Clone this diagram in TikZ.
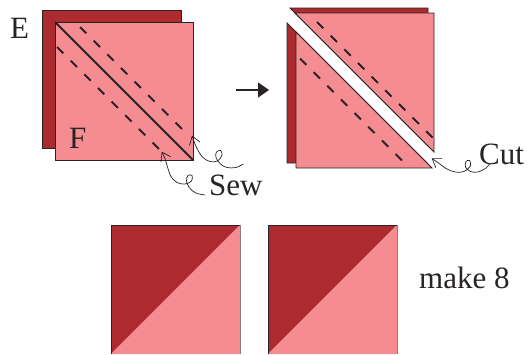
\documentclass[tikz,border=0pt]{standalone}
\usepackage{fontspec}
\setmainfont{Liberation Serif}
\usetikzlibrary{arrows.meta}
\definecolor{darkred}{RGB}{173,43,46}
\definecolor{pinkf}{RGB}{244,140,145}
\definecolor{edgec}{RGB}{40,36,37}
\begin{document}
\begin{tikzpicture}[x=1pt,y=-1pt,
  outl/.style={draw=edgec, line width=0.9pt, line join=miter},
  dashln/.style={draw=edgec, line width=1.8pt, dash pattern=on 9pt off 10.3pt},
  solidln/.style={draw=edgec, line width=1.8pt},
  lbl/.style={font=\fontsize{31}{36}\selectfont, anchor=base west, inner sep=0pt, text=edgec},
  curly/.style={draw=edgec, line width=0.7pt, -{Straight Barb[length=8pt,width=11pt]}}]
\useasboundingbox (0,0) rectangle (527,354);

% ---------- left group ----------
\filldraw[outl, fill=darkred] (42,10) rectangle (181,148);
\filldraw[outl, fill=pinkf] (55,22) rectangle (193,160);
\coordinate (dA) at (55,22);
\coordinate (dB) at (193,160);
\draw[solidln] (dA) -- (dB);
\coordinate (u1) at (80,27);  \coordinate (u2) at (183,130);
\coordinate (l1) at (57,47);  \coordinate (l2) at (162,152);
\draw[dashln] (u1) -- (u2);
\draw[dashln] (l1) -- (l2);
\node[lbl] (E) at (10,38) {E};
\node[lbl] (F) at (69,148) {F};

% sew arrows
\draw[curly] plot[smooth, tension=0.6] coordinates {(243.3,164) (236,167.5) (227,167.5) (220.5,164) (216,157.5) (216.5,152) (220.5,150.5) (222,155) (217.5,161) (210,161.5) (202.5,157) (196.5,147.5) (192,135.5)};
\draw[curly] plot[smooth, tension=0.6] coordinates {(205,195) (196,193) (189.5,188) (186.5,181) (188,175.5) (192,175.5) (191.5,181) (185,184) (177,182.5) (171,176.5) (167.5,167) (165,158.5) (161.7,151.7)};
\node[lbl] (sew) at (209,195) {Sew};

% ---------- arrow ----------
\coordinate (a1) at (236,90);
\coordinate (a2) at (269,90);
\draw[line width=1.3pt, draw=edgec, -{Triangle[length=11pt,width=15pt]}] (a1) -- (a2);

% ---------- right group ----------
\filldraw[outl, fill=darkred] (290,8) -- (428,8) -- (428,146) -- cycle;
\filldraw[outl, fill=darkred] (287,23) -- (287,163) -- (427,163) -- cycle;
\filldraw[outl, fill=pinkf] (295,13) -- (434,13) -- (434,152) -- cycle;
\filldraw[outl, fill=pinkf] (296,32) -- (296,168) -- (432,168) -- cycle;
\coordinate (ru1) at (317,22);  \coordinate (ru2) at (433,138);
\coordinate (rl1) at (300,58.5); \coordinate (rl2) at (403,161.5);
\draw[dashln] (ru1) -- (ru2);
\draw[dashln] (rl1) -- (rl2);

% cut arrow
\draw[curly] plot[smooth, tension=0.6] coordinates {(490,163.5) (486,168) (478,172) (470.5,171.5) (465.5,167) (466,161.5) (469.5,160.5) (470.5,165.5) (464,171.5) (455,172) (446,168.5) (438.5,163) (431.7,158.3)};
\node[lbl] (cut) at (479,164) {Cut};

% ---------- bottom squares ----------
\fill[darkred] (111,225) -- (240,225) -- (111,354) -- cycle;
\fill[pinkf] (240,225) -- (240,354) -- (111,354) -- cycle;
\draw[draw=edgec, line width=0.9pt] (111,354) -- (111,225) -- (240,225);
\draw[draw=gray, line width=0.9pt] (240,225) -- (240,354);

\fill[darkred] (268,225) -- (397,225) -- (268,354) -- cycle;
\fill[pinkf] (397,225) -- (397,354) -- (268,354) -- cycle;
\draw[draw=edgec, line width=0.9pt] (268,354) -- (268,225) -- (397,225);
\draw[draw=gray, line width=0.9pt] (397,225) -- (397,354);

\node[lbl] (make) at (419,288) {make 8};
\end{tikzpicture}
\end{document}
